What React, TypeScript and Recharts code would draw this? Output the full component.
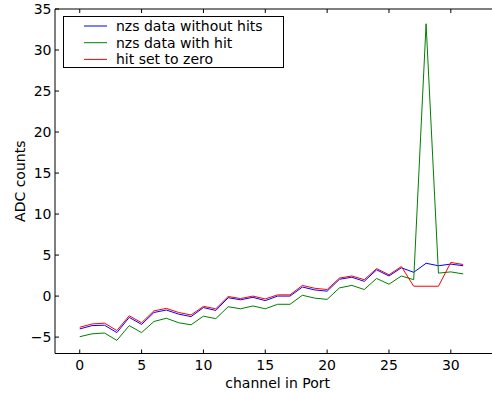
import React from "react";
import { LineChart, Line, XAxis, YAxis, Legend } from "recharts";

const channels = Array.from({ length: 32 }, (_, i) => i);

const withoutHits = [
  -4.0, -3.6, -3.55, -4.45, -2.6, -3.45, -2.0, -1.7, -2.2, -2.5, -1.4, -1.75,
  -0.2, -0.45, -0.15, -0.55, 0.0, 0.0, 1.1, 0.75, 0.6, 2.05, 2.3, 1.8, 3.2,
  2.45, 3.45, 2.9, 4.0, 3.7, 3.9, 3.7,
];

const withHit = [
  -4.95, -4.6, -4.5, -5.4, -3.6, -4.45, -3.1, -2.7, -3.25, -3.5, -2.45, -2.75,
  -1.3, -1.55, -1.2, -1.55, -1.0, -1.0, 0.1, -0.25, -0.4, 1.0, 1.3, 0.8, 2.15,
  1.45, 2.45, 2.0, 33.2, 2.8, 2.95, 2.7,
];

const hitZeroed = [
  -3.8, -3.4, -3.3, -4.2, -2.4, -3.25, -1.8, -1.5, -2.0, -2.3, -1.25, -1.55,
  -0.05, -0.3, 0.0, -0.35, 0.15, 0.15, 1.3, 0.95, 0.8, 2.2, 2.45, 2.0, 3.35,
  2.6, 3.6, 1.2, 1.2, 1.2, 4.1, 3.85,
];

const xTicks = [0, 5, 10, 15, 20, 25, 30];
const yTicks = [-5, 0, 5, 10, 15, 20, 25, 30, 35];

const series = [
  { key: "nohit", name: "nzs data without hits", color: "#0000ff" },
  { key: "hit", name: "nzs data with hit", color: "#008000" },
  { key: "zeroed", name: "hit set to zero", color: "#ff0000" },
];

const data = channels.map((ch, i) => ({
  ch,
  nohit: withoutHits[i],
  hit: withHit[i],
  zeroed: hitZeroed[i],
}));

const FONT = "'DejaVu Sans', sans-serif";
const fmt = (v: number) => (v < 0 ? "\u2212" + Math.abs(v) : String(v));

const BottomTick = ({ x, y, payload }: any) => (
  <g>
    <line x1={x} y1={y} x2={x} y2={y - 4} stroke="#000" />
    <text x={x} y={y + 16} textAnchor="middle" fontSize={14} fontFamily={FONT} fill="#000">
      {fmt(payload.value)}
    </text>
  </g>
);

const TopTick = ({ x, y }: any) => (
  <line x1={x} y1={y} x2={x} y2={y + 4} stroke="#000" />
);

const LeftTick = ({ x, y, payload }: any) => (
  <g>
    <line x1={x} y1={y} x2={x + 4} y2={y} stroke="#000" />
    <text x={x - 3.5} y={y + 5} textAnchor="end" fontSize={14} fontFamily={FONT} fill="#000">
      {fmt(payload.value)}
    </text>
  </g>
);

// boxed legend in the upper left, drawn as its own small svg
const LegendBox = () => (
  <svg width={221} height={52} style={{ display: "block" }}>
    <rect x={0.5} y={0.5} width={220} height={51} fill="#fff" stroke="#000" />
    {series.map((s, i) => {
      const cy = 10 + i * 16.7;
      return (
        <g key={s.key}>
          <line x1={21} y1={cy} x2={44} y2={cy} stroke={s.color} strokeWidth={1} />
          <text x={53} y={cy + 5} fontSize={14} fontFamily={FONT} fill="#000">
            {s.name}
          </text>
        </g>
      );
    })}
  </svg>
);

export default function App() {
  return (
    <div
      style={{
        position: "fixed",
        left: 0,
        top: 0,
        width: 492,
        height: 393,
        overflow: "hidden",
        background: "#fff",
      }}
    >
      <LineChart
        width={520}
        height={393}
        data={data}
        margin={{ top: 0, right: 19.7, bottom: 0, left: 0 }}
      >
        <XAxis
          dataKey="ch"
          type="number"
          domain={[-2, 34]}
          ticks={xTicks}
          allowDataOverflow
          height={39.5}
          tickSize={0}
          tickMargin={0}
          tick={<BottomTick />}
          axisLine={{ stroke: "#000" }}
          label={{
            value: "channel in Port",
            position: "insideBottom",
            offset: 5,
            fontSize: 14,
            fontFamily: FONT,
            fill: "#000",
          }}
        />
        <XAxis
          xAxisId="top"
          dataKey="ch"
          type="number"
          orientation="top"
          domain={[-2, 34]}
          ticks={xTicks}
          allowDataOverflow
          height={9}
          tickSize={0}
          tickMargin={0}
          tick={<TopTick />}
          axisLine={{ stroke: "#000" }}
        />
        <YAxis
          type="number"
          domain={[-7, 35]}
          ticks={yTicks}
          allowDataOverflow
          width={55}
          tickSize={0}
          tickMargin={0}
          tick={<LeftTick />}
          axisLine={{ stroke: "#000" }}
          label={{
            value: "ADC counts",
            angle: -90,
            position: "insideLeft",
            offset: 20,
            fontSize: 14,
            fontFamily: FONT,
            fill: "#000",
            style: { textAnchor: "middle" },
          }}
        />
        <Legend
          layout="horizontal"
          verticalAlign="middle"
          align="center"
          wrapperStyle={{ top: 16, left: 63, width: 221 }}
          content={<LegendBox />}
        />
        {series.map((s) => (
          <Line
            key={s.key}
            dataKey={s.key}
            name={s.name}
            stroke={s.color}
            strokeWidth={1}
            dot={false}
            activeDot={false}
            type="linear"
            isAnimationActive={false}
          />
        ))}
      </LineChart>
    </div>
  );
}
